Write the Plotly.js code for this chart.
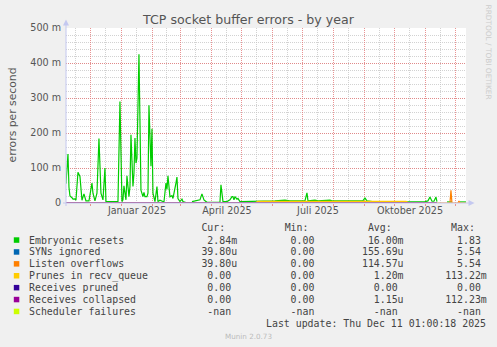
<!DOCTYPE html>
<html>
<head>
<meta charset="utf-8">
<script src="https://cdn.plot.ly/plotly-3.0.1.min.js"></script>
<style>html,body{margin:0;padding:0;background:#F0F0F0;}#chart{width:497px;height:347px;}</style>
</head>
<body>
<div id="chart"></div>
<script>
// ---------------- data (values in "m" = 1e-3 errors/s) ----------------
const xStart = '2024-11-06 01:00';
const xEnd = '2025-12-11 01:00';

const seriesNames = ['Embryonic resets','SYNs ignored','Listen overflows','Prunes in recv_queue','Receives pruned','Receives collapsed','Scheduler failures'];
const seriesColors = ['#00CC00','#0066B3','#FF8000','#FFCC00','#330099','#990099','#CCFF00'];

const greenDates = ['2024-11-06','2024-11-07','2024-11-08','2024-11-09','2024-11-10','2024-11-12','2024-11-13','2024-11-15','2024-11-16','2024-11-18','2024-11-20','2024-11-22','2024-11-24','2024-11-26','2024-11-29','2024-12-02','2024-12-03','2024-12-05','2024-12-07','2024-12-09','2024-12-11','2024-12-13','2024-12-15','2024-12-16','2024-12-20','2024-12-25','2024-12-28','2024-12-30','2025-01-01','2025-01-02','2025-01-03','2025-01-05','2025-01-06','2025-01-08','2025-01-09','2025-01-10','2025-01-12','2025-01-13','2025-01-14','2025-01-15','2025-01-16','2025-01-18','2025-01-19','2025-01-20','2025-01-22','2025-01-23','2025-01-24','2025-01-26','2025-01-27','2025-01-28','2025-01-30','2025-01-31','2025-02-01','2025-02-03','2025-02-05','2025-02-06','2025-02-08','2025-02-12','2025-02-14','2025-02-15','2025-02-16','2025-02-18','2025-02-20','2025-02-21','2025-02-24','2025-02-25','2025-02-26','2025-02-28','2025-03-02','2025-03-03','2025-03-06','2025-03-08','2025-03-12','2025-03-20','2025-03-22','2025-03-24','2025-03-27','2025-04-09','2025-04-10','2025-04-12','2025-04-16','2025-04-19','2025-04-21','2025-04-22','2025-04-23','2025-04-24','2025-04-26','2025-04-27','2025-04-29','2025-05-04','2025-05-17','2025-06-03','2025-06-13','2025-06-18','2025-07-03','2025-07-05','2025-07-06','2025-07-13','2025-07-16','2025-07-28','2025-07-30','2025-08-17','2025-08-30','2025-09-01','2025-09-03','2025-09-14','2025-10-01','2025-10-15','2025-10-16','2025-10-24','2025-10-31','2025-11-03','2025-11-05','2025-11-07','2025-11-09','2025-11-11','2025-11-12','2025-11-13','2025-11-22','2025-11-25','2025-11-27','2025-11-28','2025-12-05','2025-12-11'];
const greenVals = [55,100,140,45,20,15,11,12,8,88,76,8,26,6,6,57,28,6,28,184,28,9,100,4,4,3,4,290,4,9,49,9,78,18,47,195,47,85,186,114,128,425,124,37,18,30,18,18,28,279,105,212,28,4,47,4,8,3,57,39,78,18,21,13,57,74,13,4,11,4,1,null,4,9,26,9,2,2,52,4,4,9,18,18,9,18,11,13,4,4,6,6,8,6,6,29,6,8,6,8,6,6,7,14,6,2,2,2,4,4,4,6,17,5,5,17,4,null,3,3,3,null,3,3];

const blueDates = ['2024-11-06','2025-11-02','2025-11-03','2025-11-04','2025-11-12'];
const blueVals = [0,0,2,0,0];

const orangeDates = ['2024-11-06','2025-11-25','2025-11-26','2025-11-27','2025-12-03','2025-12-04','2025-12-05','2025-12-11'];
const orangeVals = [0,0,36,0,0,6,0,0];

const yellowDates = ['2024-11-06','2025-05-15','2025-05-17','2025-06-15','2025-07-15','2025-08-15','2025-09-15','2025-10-12','2025-10-14','2025-11-12'];
const yellowVals = [0,0,3.5,3.5,3.5,3.5,3.5,3.5,0,0];

const prunedDates = ['2024-11-06','2025-11-12'];
const prunedVals = [0,0];

const collapsedDates = ['2024-11-06','2025-11-12'];
const collapsedVals = [0,0];

// tick labels
const yTickVals = [0,0.1,0.2,0.3,0.4,0.5];
const yTickText = ['0','100 m','200 m','300 m','400 m','500 m'];
const midMonthVals = ['2024-11-16','2024-12-16','2025-01-16','2025-02-15','2025-03-16','2025-04-16','2025-05-16','2025-06-16','2025-07-16','2025-08-16','2025-09-16','2025-10-16','2025-11-16'];
const midMonthText = ['','','Januar 2025','','','April 2025','','','Juli 2025','','','Oktober 2025',''];

// legend table
const curVals = ['2.84m','39.80u','39.80u','0.00','0.00','0.00','-nan'];
const minVals = ['0.00','0.00','0.00','0.00','0.00','0.00','-nan'];
const avgVals = ['16.00m','155.69u','114.57u','1.20m','0.00','1.15u','-nan'];
const maxVals = ['1.83','5.54','5.54','113.22m','0.00','112.23m','-nan'];
const lastUpdate = 'Last update: Thu Dec 11 01:00:18 2025';

// ---------------- drawing ----------------
const milli = a => a.map(v => v === null ? null : v / 1000);
const mk = (x, y, i, xa) => ({
  type: 'scatter', mode: 'lines', x: x, y: milli(y), name: seriesNames[i],
  line: {color: seriesColors[i], width: 1.2}, connectgaps: false, hoverinfo: 'skip',
  xaxis: xa || 'x', yaxis: 'y'
});
const traces = [
  mk(greenDates, greenVals, 0),
  mk(blueDates, blueVals, 1),
  mk(orangeDates, orangeVals, 2),
  mk(yellowDates, yellowVals, 3),
  mk(prunedDates, prunedVals, 4),
  mk(collapsedDates, collapsedVals, 5, 'x2')
];
traces[3].line.width = 2.2;

// pixel helpers for plot-area geometry
const L = 66, T = 28, W = 400, H = 175;
const px = x => (x - L) / W;
const py = y => (T + H - y) / H;

const NB = '\u00A0';
const unitFmt = s => /[mu]$/.test(s) ? s : s + ' ';
function padTo(str, val, endIdx) {
  const v = unitFmt(val);
  const need = endIdx + 1 - v.length - str.length;
  return str + ' '.repeat(Math.max(1, need)) + v;
}

const annotations = [];
const shapes = [];
const monoFont = {family: 'DejaVu Sans Mono', size: 9.9, color: '#444'};
const legX = 26.7;
const rowY = [240, 251.9, 263.8, 275.7, 287.6, 299.5, 311.4];
const charW = 5.94;

annotations.push({xref:'paper', yref:'paper', x: px(legX), y: py(227.7), xanchor:'left', yanchor:'middle', showarrow:false,
  text: (' '.repeat(29) + 'Cur:' + ' '.repeat(10) + 'Min:' + ' '.repeat(10) + 'Avg:' + ' '.repeat(10) + 'Max:').replace(/ /g, NB), font: monoFont});

for (let i = 0; i < seriesNames.length; i++) {
  let s = seriesNames[i];
  s = padTo(s, curVals[i], 34);
  s = padTo(s, minVals[i], 48);
  s = padTo(s, avgVals[i], 62);
  s = padTo(s, maxVals[i], 76);
  annotations.push({xref:'paper', yref:'paper', x: px(legX), y: py(rowY[i]), xanchor:'left', yanchor:'middle', showarrow:false,
    text: s.replace(/ /g, NB), font: monoFont});
  shapes.push({type:'rect', xref:'paper', yref:'paper', x0: px(13.8), x1: px(19.3), y0: py(rowY[i] + 2.8), y1: py(rowY[i] - 2.7),
    fillcolor: seriesColors[i], line: {width: 0}});
}
annotations.push({xref:'paper', yref:'paper', x: px(legX + 40 * charW), y: py(323.4), xanchor:'left', yanchor:'middle', showarrow:false,
  text: lastUpdate.replace(/ /g, NB), font: monoFont});
annotations.push({xref:'paper', yref:'paper', x: px(248.5), y: py(336), xanchor:'center', yanchor:'middle', showarrow:false,
  text: 'Munin 2.0.73', font: {family:'DejaVu Sans', size: 7.2, color:'#BBBBBB'}});
annotations.push({xref:'paper', yref:'paper', x: px(488.5), y: py(52), xanchor:'center', yanchor:'middle', showarrow:false, textangle: 90,
  text: 'RRDTOOL / TOBI OETIKER', font: {family:'DejaVu Sans', size: 7.4, color:'#CCCCCC'}});
annotations.push({xref:'paper', yref:'paper', x: px(11.5), y: py(115), xanchor:'center', yanchor:'middle', showarrow:false, textangle: -90,
  text: 'errors per second', font: {family:'DejaVu Sans', size: 10.8, color:'#555555'}});

// axes with arrows
const axisCol = '#C4C8F0';
shapes.push({type:'line', xref:'paper', yref:'paper', x0: px(66), x1: px(66), y0: py(206), y1: py(24), line:{color: axisCol, width: 1}});
shapes.push({type:'path', xref:'paper', yref:'paper', path: `M ${px(63)} ${py(25.5)} L ${px(69)} ${py(25.5)} L ${px(66)} ${py(19.5)} Z`, fillcolor: axisCol, line:{width:0}});
shapes.push({type:'line', xref:'paper', yref:'paper', x0: px(63), x1: px(470), y0: py(203), y1: py(203), line:{color: axisCol, width: 1}});
shapes.push({type:'path', xref:'paper', yref:'paper', path: `M ${px(468.5)} ${py(200)} L ${px(468.5)} ${py(206)} L ${px(474.5)} ${py(203)} Z`, fillcolor: axisCol, line:{width:0}});

const redGrid = 'rgba(228,120,120,0.8)';
const grayGrid = 'rgba(195,195,195,0.75)';
const tickFont = {family:'DejaVu Sans', size: 9.6, color:'#555555'};

const layout = {
  width: 497, height: 347,
  paper_bgcolor: '#F0F0F0', plot_bgcolor: '#FFFFFF',
  margin: {l: L, r: 497 - L - W, t: T, b: 347 - T - H, pad: 0},
  showlegend: false,
  title: {text: 'TCP socket buffer errors - by year', font: {family:'DejaVu Sans', size: 12.6, color:'#555555'},
    xref:'container', x: 0.5, xanchor:'center', yref:'container', y: 1 - 19.3/347, yanchor:'middle'},
  xaxis: {type:'date', range:[xStart, xEnd], tick0:'2024-12-01', dtick:'M1', showticklabels:false,
    ticks:'outside', ticklen: 2, tickcolor: redGrid, showgrid: true, gridcolor: redGrid, griddash:'1px,1px', gridwidth: 1,
    zeroline:false, showline:false, fixedrange:true},
  xaxis2: {type:'date', range:[xStart, xEnd], overlaying:'x', anchor:'y', side:'bottom', tickmode:'array',
    tickvals: midMonthVals, ticktext: midMonthText, showgrid:true, gridcolor: grayGrid, griddash:'1px,1px',
    zeroline:false, showline:false, ticks:'', tickfont: tickFont, fixedrange:true},
  yaxis: {range:[0, 0.5], tickmode:'array', tickvals: yTickVals, ticktext: yTickText, tickfont: tickFont,
    showgrid:true, gridcolor: redGrid, griddash:'1px,1px', zeroline:false, showline:false, ticks:'', fixedrange:true,
    ticklabelstandoff: 4,
    minor: {dtick: 0.02, showgrid:true, gridcolor: grayGrid, griddash:'1px,1px', ticks:''}},
  annotations: annotations,
  shapes: shapes
};

Plotly.newPlot('chart', traces, layout, {displayModeBar:false, staticPlot:true});
</script>
</body>
</html>
